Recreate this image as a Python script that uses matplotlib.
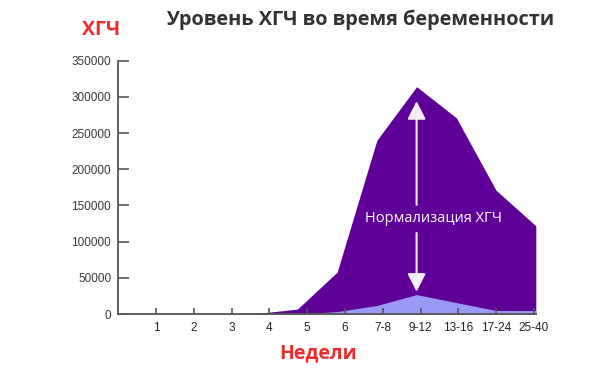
import numpy as np
import matplotlib.pyplot as plt

weeks = ["1", "2", "3", "4", "5", "6", "7-8", "9-12", "13-16", "17-24", "25-40"]
hcg_upper = [0, 0, 0, 1000, 7000, 58000, 240000, 314000, 271000, 171000, 122000]
hcg_lower = [0, 0, 0, 0, 0, 3500, 12000, 27000, 16000, 5000, 5000]
yticks = [0, 50000, 100000, 150000, 200000, 250000, 300000, 350000]

fig = plt.figure(figsize=(6, 3.74), dpi=100)
ax = fig.add_axes([0.197, 0.16, 0.696, 0.678])
ax2 = ax.twiny()

x = np.arange(1, len(weeks) + 1)

# fills sit on their own x scale (slightly wider spacing than the tick labels)
ax2.fill_between(x, hcg_upper, color="#5f0098", lw=0)
ax2.fill_between(x, hcg_lower, color="#9a99f8", lw=0)
ax2.set_xlim(0.49, 11.0)
ax2.axis("off")

# arrows + label
ax2.annotate("", xy=(8, 294000), xytext=(8, 151000),
             arrowprops=dict(arrowstyle="-|>,head_length=0.55,head_width=0.28",
                             color="#f4eef8", lw=1.5, mutation_scale=20,
                             shrinkA=0, shrinkB=0))
ax2.annotate("", xy=(8, 31000), xytext=(8, 112000),
             arrowprops=dict(arrowstyle="-|>,head_length=0.55,head_width=0.28",
                             color="#f4eef8", lw=1.5, mutation_scale=20,
                             shrinkA=0, shrinkB=0))
ax2.text(8.42, 131500, "Нормализация ХГЧ", color="white", fontsize=10.5,
         family="Open Sans", ha="center", va="center")

ax.set_zorder(ax2.get_zorder() + 1)
ax.patch.set_visible(False)

ax.set_xlim(0, 11.05)
ax.set_ylim(0, 350000)
ax.set_xticks(x)
ax.set_xticklabels(weeks)
ax.set_yticks(yticks)
ax.set_yticklabels([str(v) for v in yticks])

for s in ["top", "right"]:
    ax.spines[s].set_visible(False)
for s in ["left", "bottom"]:
    ax.spines[s].set_color("#555555")
    ax.spines[s].set_linewidth(1.3)

ax.tick_params(axis="y", direction="in", length=8, width=1.2, color="#555555",
               labelsize=8.5, labelcolor="#3a3a3a", pad=5)
ax.tick_params(axis="x", direction="in", length=4, width=1.2, color="#555555",
               labelsize=8.5, labelcolor="#222222", pad=6)
for lab in ax.get_xticklabels() + ax.get_yticklabels():
    lab.set_family("Liberation Sans")

fig.text(0.168, 0.92, "ХГЧ", color="#ee2b2b", fontsize=14, fontweight="bold",
         family="Open Sans", ha="center", va="center")
fig.text(0.6, 0.948, "Уровень ХГЧ во время беременности", color="#333333",
         fontsize=14.3, fontweight="bold", family="Open Sans", ha="center", va="center")
fig.text(0.53, 0.056, "Недели", color="#ee2b2b", fontsize=14, fontweight="bold",
         family="Open Sans", ha="center", va="center")

fig.savefig("out.png", dpi=100)
